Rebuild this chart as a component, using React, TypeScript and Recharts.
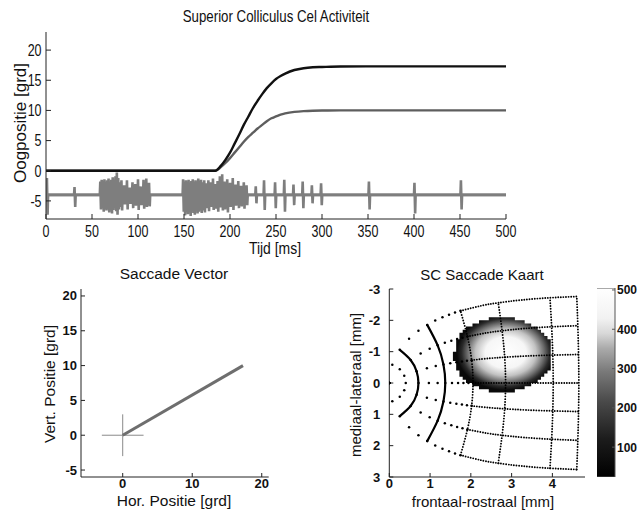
import React from 'react'
import { ComposedChart, Line, Area, XAxis, YAxis } from 'recharts'

const FONT = '"Liberation Sans", Arial, Helvetica, sans-serif'

// ---- top panel: eye position (grd) against time (ms)
const EYE_T = [0, 184, 190, 195, 200, 205, 210, 215, 220, 225, 230, 235, 240, 245, 250, 255, 260, 270, 280, 290, 300, 320, 350, 400, 500]
const EYE_H = [0, 0, 0.8, 1.8, 3.0, 4.5, 6.0, 7.6, 9.0, 10.4, 11.6, 12.7, 13.7, 14.5, 15.2, 15.7, 16.1, 16.7, 17.0, 17.15, 17.2, 17.28, 17.3, 17.3, 17.3]
const EYE_V = [0, 0, 0.6, 1.3, 2.1, 3.0, 3.9, 4.8, 5.6, 6.3, 7.0, 7.6, 8.2, 8.7, 9.0, 9.3, 9.5, 9.75, 9.88, 9.95, 9.98, 10.0, 10.0, 10.0, 10.0]

// spike train drawn around a baseline of -4
const SPIKE_BASE = -4
const SPIKE_T = [
  1, 31,
  59, 60.5, 62, 63.5, 65, 66.5, 68, 69.5, 71, 72.5, 74, 75.5, 77, 78.5, 80, 82,
  85, 88, 91, 94, 97, 100, 103, 106, 109, 112,
  149, 150.5, 152, 153.5, 155, 156.5, 158, 159.5, 161, 162.5, 164, 165.5, 167, 168.5, 170, 172,
  174, 176.5, 179, 181.5, 184, 186.5, 189, 191.5, 194, 197, 200, 203, 206, 209, 212, 215, 218,
  228, 237, 249, 259, 269, 279, 289, 299, 351, 400.5, 451,
]
const SPIKE_TOP = [
  -1.2, -2.7,
  -1.8, -1.5, -1.7, -1.4, -1.9, -1.6, -1.3, -1.8, -1.5, -1.1, -1.7, -0.9, -0.3, -1.2, -1.9, -1.6,
  -2.4, -1.6, -2.8, -1.9, -2.2, -1.4, -2.6, -1.5, -1.3, -2.0,
  -1.4, -1.9, -1.6, -1.8, -1.5, -2.0, -1.7, -1.4, -1.9, -1.6, -1.8, -1.3, -1.7, -1.5, -1.9, -1.6,
  -2.1, -1.6, -1.9, -1.3, -2.2, -1.7, -0.9, -0.6, -1.8, -1.4, -2.0, -1.2, -2.3, -1.7, -2.5, -1.9, -2.4,
  -2.6, -1.6, -1.9, -1.5, -2.3, -1.8, -2.4, -2.1, -1.8, -2.0, -1.6,
]
const SPIKE_BOT = [
  -7.3, -6.0,
  -6.4, -6.0, -6.8, -6.2, -6.6, -6.1, -6.9, -6.3, -7.1, -6.5, -6.0, -6.7, -7.3, -6.4, -6.0, -6.6,
  -5.6, -6.4, -5.5, -6.2, -5.8, -6.5, -5.7, -6.3, -6.0, -5.9,
  -6.8, -7.4, -6.5, -7.2, -6.9, -7.5, -6.6, -7.0, -7.3, -6.7, -7.1, -6.8, -6.5, -7.0, -6.6, -6.9,
  -6.2, -6.7, -6.0, -6.5, -6.3, -6.8, -6.1, -6.6, -6.4, -6.9, -6.0, -6.5, -5.8, -6.2, -5.9, -6.3, -5.7,
  -5.4, -6.5, -6.2, -6.8, -5.7, -6.2, -5.4, -5.7, -6.4, -7.1, -6.4,
]
const TIME_TICKS = [0, 50, 100, 150, 200, 250, 300, 350, 400, 450, 500]
const POS_TICKS = [-5, 0, 5, 10, 15, 20]

// ---- saccade vector (grd)
const VEC_X = [0, 17.3]
const VEC_Y = [0, 10]
const CROSS_HALF = 3
const VEC_TICKS_X = [0, 10, 20]
const VEC_TICKS_Y = [-5, 0, 5, 10, 15, 20]

// ---- SC map (mm): grid nodes along iso-direction lines, at these eccentricities (grd)
const ECC = [0, 1, 2, 3, 4, 5, 6, 7, 8, 9, 10, 15, 20, 30, 50, 80]
const DIR_0_U = [0, 0.403, 0.715, 0.97, 1.186, 1.373, 1.538, 1.686, 1.819, 1.941, 2.053, 2.508, 2.852, 3.357, 4.02, 4.649]
const DIR_0_V = [0, 0, 0, 0, 0, 0, 0, 0, 0, 0, 0, 0, 0, 0, 0, 0]
const DIR_30_U = [0, 0.367, 0.669, 0.922, 1.139, 1.328, 1.495, 1.645, 1.781, 1.905, 2.019, 2.482, 2.83, 3.341, 4.01, 4.642]
const DIR_30_V = [0, 0.231, 0.375, 0.471, 0.54, 0.592, 0.632, 0.664, 0.69, 0.711, 0.73, 0.79, 0.823, 0.86, 0.891, 0.91]
const DIR_60_U = [0, 0.257, 0.523, 0.769, 0.99, 1.186, 1.362, 1.521, 1.664, 1.795, 1.916, 2.404, 2.767, 3.297, 3.982, 4.624]
const DIR_60_V = [0, 0.437, 0.736, 0.942, 1.09, 1.201, 1.285, 1.351, 1.404, 1.448, 1.485, 1.604, 1.668, 1.737, 1.795, 1.828]
const DIR_90_U = [0, 0.074, 0.257, 0.485, 0.715, 0.93, 1.127, 1.304, 1.465, 1.612, 1.746, 2.281, 2.672, 3.231, 3.941, 4.598]
const DIR_90_V = [0, 0.579, 1.058, 1.414, 1.669, 1.855, 1.993, 2.099, 2.182, 2.248, 2.303, 2.472, 2.559, 2.648, 2.72, 2.76]
const RING_ECC = [2, 5, 10, 20, 50, 80]
const SOLID_RINGS = [2, 5]
const SPARSE_MAX_ECC = 10

// activity blob: pixel columns (left edges) with top / bottom edge
const BLOB_X = [1.56, 1.64, 1.72, 1.8, 1.88, 1.96, 2.04, 2.12, 2.2, 2.28, 2.36, 2.44, 2.52, 2.6, 2.68, 2.76, 2.84, 2.92, 3.0, 3.08, 3.16, 3.24, 3.32, 3.4, 3.48, 3.56, 3.64, 3.72, 3.8, 3.88, 3.96]
const BLOB_TOP = [-1.0, -1.4, -1.6, -1.7, -1.8, -1.8, -1.9, -1.9, -2.0, -2.0, -2.0, -2.1, -2.1, -2.1, -2.1, -2.1, -2.1, -2.1, -2.1, -2.0, -2.0, -2.0, -1.9, -1.9, -1.8, -1.8, -1.7, -1.6, -1.5, -1.4]
const BLOB_BOT = [-0.7, -0.4, -0.2, -0.1, 0.0, 0.0, 0.1, 0.1, 0.2, 0.2, 0.2, 0.3, 0.3, 0.3, 0.3, 0.3, 0.3, 0.3, 0.3, 0.2, 0.2, 0.2, 0.1, 0.1, 0.0, 0.0, -0.1, -0.2, -0.3, -0.4]
const MAP_TICKS_X = [0, 1, 2, 3, 4]
const MAP_TICKS_Y = [-3, -2, -1, 0, 1, 2, 3]
const CBAR_MIN = 24
const CBAR_MAX = 505
const CBAR_TICKS = [100, 200, 300, 400, 500]

// ---- derived tables
const eyeData = EYE_T.map((t, i) => ({ t, h: EYE_H[i], v: EYE_V[i] }))
const baseData = [{ t: 0, s: SPIKE_BASE }, { t: 500, s: SPIKE_BASE }]

const spikeData: { t: number; s: number }[] = [{ t: 0, s: SPIKE_BASE }]
SPIKE_T.forEach((t, i) => {
  spikeData.push({ t: t - 0.5, s: SPIKE_BASE })
  spikeData.push({ t, s: SPIKE_TOP[i] })
  spikeData.push({ t: t + 0.75, s: SPIKE_BOT[i] })
  spikeData.push({ t: t + 1.25, s: SPIKE_BASE })
})
spikeData.push({ t: 500, s: SPIKE_BASE })

const vecData = VEC_X.map((x, i) => ({ x, y: VEC_Y[i] }))
const crossH = [{ x: -CROSS_HALF, y: 0 }, { x: CROSS_HALF, y: 0 }]
const crossV = [{ x: 0, y: -CROSS_HALF }, { x: 0, y: CROSS_HALF }]

const DIRS = [
  { u: DIR_0_U, v: DIR_0_V },
  { u: DIR_30_U, v: DIR_30_V },
  { u: DIR_60_U, v: DIR_60_V },
  { u: DIR_90_U, v: DIR_90_V },
]
// upward directions go to negative mm (top of the map)
const dirLines: { x: number; y: number; r: number }[][] = []
DIRS.forEach((d, k) => {
  const signs = k === 0 ? [1] : [1, -1]
  signs.forEach((sg) => {
    dirLines.push(ECC.map((r, i) => ({ r, x: d.u[i], y: -sg * d.v[i] })))
  })
})
const sparseDots = dirLines.flatMap((l) => l.filter((p) => p.r <= SPARSE_MAX_ECC))
const denseLines = dirLines.map((l) => l.filter((p) => p.r >= SPARSE_MAX_ECC))
const ringLines = RING_ECC.map((R) => {
  const i = ECC.indexOf(R)
  const order = [[3, -1], [2, -1], [1, -1], [0, 1], [1, 1], [2, 1], [3, 1]]
  return { R, pts: order.map(([k, sg]) => ({ x: DIRS[k].u[i], y: -sg * DIRS[k].v[i] })) }
})
const blobData = BLOB_X.map((x, i) => {
  const j = Math.min(i, BLOB_TOP.length - 1)
  return { x, r: [BLOB_TOP[j], BLOB_BOT[j]] }
})
const cbarData = [{ x: 0, r: [CBAR_MIN, CBAR_MAX] }, { x: 1, r: [CBAR_MIN, CBAR_MAX] }]

// ---- helpers
const Tick = ({ x, y, payload, anchor, dy, size, bold, sx }: any) => (
  <text
    transform={`translate(${x},${y + dy}) scale(${sx ?? 1},1)`}
    textAnchor={anchor}
    fontSize={size}
    fontWeight={bold ? 700 : 400}
    fontFamily={FONT}
    fill="#111"
  >
    {payload.value}
  </text>
)

function Txt({ x, y, size, sx = 1, rot = false, children }: any) {
  return (
    <div
      style={{
        position: 'absolute',
        left: x,
        top: y,
        fontFamily: FONT,
        fontSize: size,
        lineHeight: 1,
        whiteSpace: 'nowrap',
        color: '#111',
        transform: `translate(-50%,-50%) ${rot ? 'rotate(-90deg)' : ''} scaleX(${sx})`,
      }}
    >
      {children}
    </div>
  )
}

const layer: React.CSSProperties = { position: 'absolute', left: 0, top: 0 }
const AX = '#222'

export default function App() {
  return (
    <div style={{ position: 'absolute', left: 0, top: 0, width: 640, height: 515, background: '#fff', overflow: 'hidden' }}>
      {/* top panel */}
      <div style={layer}>
        <ComposedChart width={640} height={515} margin={{ top: 32, right: 134, bottom: 266, left: 0 }}>
          <XAxis xAxisId="b" type="number" dataKey="t" domain={[0, 500]} ticks={TIME_TICKS} height={30}
            tickSize={-5} tickMargin={10} stroke={AX} allowDataOverflow
            tick={(p: any) => <Tick {...p} anchor="middle" dy={12.5} size={16} sx={0.78} />} />
          <XAxis xAxisId="t" orientation="top" type="number" dataKey="t" domain={[0, 500]} ticks={TIME_TICKS}
            height={0} tickSize={-5} tick={false} stroke={AX} allowDataOverflow />
          <YAxis yAxisId="l" type="number" domain={[-8, 23]} ticks={POS_TICKS} width={46}
            tickSize={-5} tickMargin={9.5} stroke={AX} allowDataOverflow
            tick={(p: any) => <Tick {...p} anchor="end" dy={5.8} size={16} sx={0.78} />} />
          <YAxis yAxisId="r" orientation="right" type="number" domain={[-8, 23]} ticks={POS_TICKS} width={0}
            tickSize={-5} tick={false} stroke={AX} allowDataOverflow />
          <Line xAxisId="b" yAxisId="l" data={baseData} dataKey="s" stroke="#868686"
            strokeWidth={2.8} dot={false} activeDot={false} isAnimationActive={false} />
          <Line xAxisId="b" yAxisId="l" data={spikeData} dataKey="s" type="linear" stroke="#7e7e7e"
            strokeWidth={2.6} dot={false} activeDot={false} isAnimationActive={false} />
          <Line xAxisId="b" yAxisId="l" data={eyeData} dataKey="v" type="monotone" stroke="#5e5e5e"
            strokeWidth={2.4} dot={false} activeDot={false} isAnimationActive={false} />
          <Line xAxisId="b" yAxisId="l" data={eyeData} dataKey="h" type="monotone" stroke="#111"
            strokeWidth={2.4} dot={false} activeDot={false} isAnimationActive={false} />
        </ComposedChart>
      </div>

      {/* saccade vector */}
      <div style={layer}>
        <ComposedChart width={640} height={515} margin={{ top: 289, right: 371.3, bottom: 18, left: 41 }}>
          <XAxis xAxisId="b" type="number" dataKey="x" domain={[-6, 21]} ticks={VEC_TICKS_X} height={20}
            tickSize={-4} tickMargin={8} stroke={AX} allowDataOverflow
            tick={(p: any) => <Tick {...p} anchor="middle" dy={7} size={13} bold />} />
          <XAxis xAxisId="t" orientation="top" type="number" dataKey="x" domain={[-6, 21]} ticks={VEC_TICKS_X}
            height={0} tickSize={-4} tick={false} stroke={AX} allowDataOverflow />
          <YAxis yAxisId="l" type="number" domain={[-6, 21]} ticks={VEC_TICKS_Y} width={40}
            tickSize={-4} tickMargin={8} stroke={AX} allowDataOverflow
            tick={(p: any) => <Tick {...p} anchor="end" dy={4.5} size={13} bold />} />
          <YAxis yAxisId="r" orientation="right" type="number" domain={[-6, 21]} ticks={VEC_TICKS_Y} width={0}
            tickSize={-4} tick={false} stroke={AX} allowDataOverflow />
          <Line xAxisId="b" yAxisId="l" data={crossH} dataKey="y" stroke="#8a8a8a" strokeWidth={1}
            dot={false} activeDot={false} isAnimationActive={false} />
          <Line xAxisId="b" yAxisId="l" data={crossV} dataKey="y" stroke="#8a8a8a" strokeWidth={1}
            dot={false} activeDot={false} isAnimationActive={false} />
          <Line xAxisId="b" yAxisId="l" data={vecData} dataKey="y" stroke="#6e6e6e" strokeWidth={3}
            dot={false} activeDot={false} isAnimationActive={false} />
        </ComposedChart>
      </div>

      {/* SC map */}
      <div style={layer}>
        <ComposedChart width={640} height={515} margin={{ top: 289, right: 55, bottom: 18, left: 359.3 }}>
          <defs>
            <radialGradient id="blobGrad" cx="0.54" cy="0.47" r="0.5">
              <stop offset="0" stopColor="#ffffff" />
              <stop offset="0.42" stopColor="#f6f6f6" />
              <stop offset="0.62" stopColor="#c2c2c2" />
              <stop offset="0.78" stopColor="#6e6e6e" />
              <stop offset="0.9" stopColor="#2a2a2a" />
              <stop offset="1" stopColor="#0a0a0a" />
            </radialGradient>
          </defs>
          <XAxis xAxisId="b" type="number" dataKey="x" domain={[0, 4.8]} ticks={MAP_TICKS_X} height={20}
            tickSize={-4} tickMargin={8} stroke={AX} allowDataOverflow
            tick={(p: any) => <Tick {...p} anchor="middle" dy={7} size={13} bold />} />
          <XAxis xAxisId="t" orientation="top" type="number" dataKey="x" domain={[0, 4.8]} ticks={MAP_TICKS_X}
            height={0} tickSize={-4} tick={false} stroke={AX} allowDataOverflow />
          <YAxis yAxisId="l" type="number" domain={[-3, 3]} reversed ticks={MAP_TICKS_Y} width={30}
            tickSize={-4} tickMargin={13} stroke={AX} allowDataOverflow
            tick={(p: any) => <Tick {...p} anchor="end" dy={4.5} size={13} bold />} />
          <YAxis yAxisId="r" orientation="right" type="number" domain={[-3, 3]} reversed ticks={MAP_TICKS_Y} width={0}
            tickSize={-4} tick={false} stroke={AX} allowDataOverflow />
          <Area xAxisId="b" yAxisId="l" data={blobData} dataKey="r" type="stepAfter" stroke="none"
            fill="url(#blobGrad)" fillOpacity={1} dot={false} activeDot={false} isAnimationActive={false} />
          {ringLines.map((ring) => (
            <Line key={`ring-${ring.R}`} xAxisId="b" yAxisId="l" data={ring.pts} dataKey="y" type="natural"
              stroke="#000" strokeWidth={SOLID_RINGS.includes(ring.R) ? 2.2 : 1.9}
              strokeDasharray={SOLID_RINGS.includes(ring.R) ? undefined : '0 2.8'} strokeLinecap="round"
              dot={false} activeDot={false} isAnimationActive={false} />
          ))}
          {denseLines.map((l, i) => (
            <Line key={`dir-${i}`} xAxisId="b" yAxisId="l" data={l} dataKey="y" type="natural"
              stroke="#000" strokeWidth={1.9} strokeDasharray="0 2.6" strokeLinecap="round"
              dot={false} activeDot={false} isAnimationActive={false} />
          ))}
          <Line xAxisId="b" yAxisId="l" data={sparseDots} dataKey="y" stroke="none"
            dot={{ r: 1.25, fill: '#000', stroke: 'none' }} activeDot={false} isAnimationActive={false} />
        </ComposedChart>
      </div>

      {/* colour bar */}
      <div style={layer}>
        <ComposedChart width={640} height={515} margin={{ top: 288, right: 0, bottom: 38, left: 597 }}>
          <defs>
            <linearGradient id="cbarGrad" x1="0" y1="1" x2="0" y2="0">
              <stop offset="0" stopColor="#000" />
              <stop offset="0.2" stopColor="#1c1c1c" />
              <stop offset="0.4" stopColor="#4a4a4a" />
              <stop offset="0.56" stopColor="#7a7a7a" />
              <stop offset="0.68" stopColor="#aaa" />
              <stop offset="0.76" stopColor="#d8d8d8" />
              <stop offset="0.84" stopColor="#f2f2f2" />
              <stop offset="1" stopColor="#fff" />
            </linearGradient>
          </defs>
          <XAxis xAxisId="b" type="number" dataKey="x" domain={[0, 1]} hide />
          <YAxis yAxisId="l" type="number" domain={[CBAR_MIN, CBAR_MAX]} ticks={CBAR_TICKS} width={0}
            tickSize={-3} tick={false} stroke="#555" allowDataOverflow />
          <YAxis yAxisId="r" orientation="right" type="number" domain={[CBAR_MIN, CBAR_MAX]} ticks={CBAR_TICKS}
            width={25} tickSize={-3} tickMargin={5} stroke="#555" allowDataOverflow
            tick={(p: any) => <Tick {...p} anchor="start" dy={4.5} size={12} bold />} />
          <Area xAxisId="b" yAxisId="l" data={cbarData} dataKey="r" type="linear" stroke="#555" strokeWidth={1}
            fill="url(#cbarGrad)" fillOpacity={1} dot={false} activeDot={false} isAnimationActive={false} />
        </ComposedChart>
      </div>

      <Txt x={276} y={16} size={17} sx={0.78}>Superior Colliculus Cel Activiteit</Txt>
      <Txt x={275} y={248} size={17} sx={0.82}>Tijd [ms]</Txt>
      <Txt x={20} y={123} size={17} rot>Oogpositie [grd]</Txt>
      <Txt x={174} y={274} size={15.5}>Saccade Vector</Txt>
      <Txt x={174} y={501} size={15.5}>Hor. Positie [grd]</Txt>
      <Txt x={50} y={384} size={15.5} rot>Vert. Positie [grd]</Txt>
      <Txt x={482} y={274} size={15}>SC Saccade Kaart</Txt>
      <Txt x={483} y={501} size={15}>frontaal-rostraal [mm]</Txt>
      <Txt x={355} y={385} size={15} rot>mediaal-lateraal [mm]</Txt>
    </div>
  )
}
